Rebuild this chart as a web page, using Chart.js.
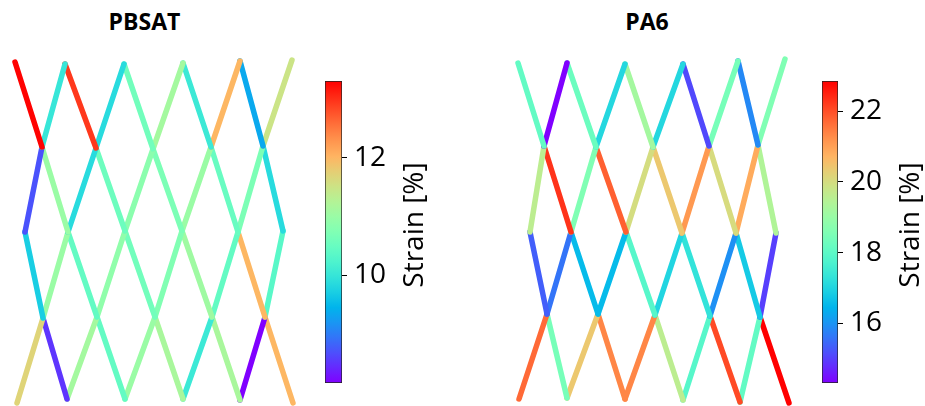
<!DOCTYPE html>
<html lang="en">
<head>
    <meta charset="UTF-8">
    <title>Strain lattice</title>
    <style>
        body { margin: 0; background: #fff; }
        #wrap { position: relative; width: 925px; height: 406px; overflow: hidden; }
        #wrap canvas { position: absolute; }
        .ttl { position: absolute; top: 10px; width: 200px; margin-left: -100px; text-align: center;
               font: bold 23px 'Open Sans'; line-height: 22px; color: #000; }
    </style>
</head>
<body>
<div id="wrap">
    <div class="ttl" style="left: 144.5px">PBSAT</div>
    <div class="ttl" style="left: 647px">PA6</div>
    <canvas id="latA" width="310" height="366" style="left:0px; top:40px"></canvas>
    <canvas id="barA" width="117" height="322" style="left:325px; top:71px"></canvas>
    <canvas id="latB" width="310" height="366" style="left:500px; top:40px"></canvas>
    <canvas id="barB" width="116" height="322" style="left:822px; top:71px"></canvas>
</div>

<script src="https://cdn.jsdelivr.net/npm/chart.js"></script>
<script>
// node positions [mm], rows from top to bottom (6,5,6,5,6 nodes)
const pbsatX = [
    [1.5, 6.5, 12.4, 18.3, 24.0, 29.2],
    [4.2, 9.6, 15.3, 21.1, 26.3],
    [2.5, 6.8, 12.5, 18.2, 23.8, 28.3],
    [4.3, 9.7, 15.5, 21.2, 26.5],
    [1.7, 6.7, 12.5, 18.3, 24.0, 29.3]
]
const pbsatY = [
    [34.4, 34.2, 34.2, 34.3, 34.5, 34.6],
    [25.9, 25.8, 25.7, 25.9, 26.0],
    [17.4, 17.4, 17.5, 17.5, 17.4, 17.5],
    [8.8, 8.9, 8.9, 8.9, 8.9],
    [0.3, 0.7, 0.7, 0.7, 0.6, 0.3]
]
const pa6X = [
    [1.8, 6.7, 12.5, 18.3, 23.8, 28.5],
    [4.4, 9.6, 15.3, 20.9, 25.8],
    [3.0, 7.1, 12.6, 18.2, 23.6, 27.6],
    [4.7, 9.8, 15.5, 21.0, 26.0],
    [1.9, 6.7, 12.5, 18.3, 24.0, 28.9]
]
const pa6Y = [
    [34.3, 34.3, 34.2, 34.2, 34.5, 34.7],
    [26.0, 25.9, 25.9, 26.0, 26.1],
    [17.4, 17.4, 17.4, 17.3, 17.3, 17.3],
    [9.2, 9.2, 9.1, 9.0, 8.9],
    [0.7, 0.8, 0.7, 0.6, 0.4, 0.3]
]

// strain [%] per strut, one row per band between node rows (zigzag order, left to right)
const pbsatStrain = [
    [13.3, 10.0, 12.95, 9.85, 10.6, 11.1, 10.05, 12.0, 9.35, 11.5],
    [8.7, 11.0, 9.85, 10.55, 10.85, 10.7, 11.0, 10.5, 10.7, 9.85],
    [9.7, 11.0, 10.45, 10.9, 10.6, 10.75, 11.05, 10.45, 12.0, 10.35],
    [11.7, 8.5, 11.1, 10.45, 11.0, 11.15, 10.05, 11.15, 8.16, 12.0]
]
const pa6Strain = [
    [18.1, 14.32, 18.25, 17.05, 19.2, 17.05, 15.1, 18.45, 15.85, 18.6],
    [19.6, 22.3, 18.6, 21.8, 20.0, 20.4, 21.1, 20.05, 20.85, 19.4],
    [15.35, 15.6, 16.55, 16.55, 17.9, 17.0, 17.3, 15.95, 16.8, 15.0],
    [21.7, 18.45, 20.4, 21.35, 21.35, 19.6, 17.9, 22.05, 18.1, 22.85]
]

// colorbar limits and ticks
const pbsatRange = [8.16, 13.31]
const pa6Range = [14.32, 22.85]
const pbsatTicks = [10, 12]
const pa6Ticks = [16, 18, 20, 22]

// matplotlib 'rainbow'
function rainbow(t){
    t = Math.min(1, Math.max(0, t))
    const c = v => Math.round(255 * Math.min(1, Math.max(0, v)))
    return 'rgb(' + c(Math.abs(2*t - 0.5)) + ',' + c(Math.sin(Math.PI*t)) + ',' + c(Math.cos(Math.PI*t/2)) + ')'
}

function latticeChart(id, xs, ys, strain, range){
    const datasets = []
    for (let b = 0; b < strain.length; b++){
        // rows 0,2,4 hold 6 nodes, rows 1,3 hold 5
        const wide = b % 2 == 0 ? b : b + 1
        const narrow = b % 2 == 0 ? b + 1 : b
        strain[b].forEach((s, k) => {
            const w = Math.ceil(k/2), n = Math.floor(k/2)
            datasets.push({
                type: 'line',
                data: [{x: xs[wide][w], y: ys[wide][w]}, {x: xs[narrow][n], y: ys[narrow][n]}],
                borderColor: rainbow((s - range[0]) / (range[1] - range[0])),
                borderWidth: 5.5,
                borderCapStyle: 'round',
                pointRadius: 0,
                clip: false
            })
        })
    }
    return new Chart(document.getElementById(id), {
        type: 'scatter',
        data: {datasets: datasets},
        options: {
            responsive: false,
            animation: false,
            events: [],
            scales: {
                x: {display: false, min: 0, max: 31},
                y: {display: false, min: 0, max: 36.6}
            },
            plugins: {legend: {display: false}, tooltip: {enabled: false}}
        }
    })
}

// colorbar label, reads bottom to top like matplotlib
const cbLabel = {
    id: 'cbLabel',
    afterDraw(chart, args, opts){
        const {ctx, chartArea: {top, bottom, right}} = chart
        ctx.save()
        ctx.translate(right + opts.offset, (top + bottom) / 2 + opts.shift)
        ctx.rotate(-Math.PI / 2)
        ctx.font = '28px "Open Sans"'
        ctx.fillStyle = '#000'
        ctx.textAlign = 'center'
        ctx.textBaseline = 'alphabetic'
        ctx.fillText(opts.text, 0, 0)
        ctx.restore()
    }
}

function colorbar(id, range, ticks){
    return new Chart(document.getElementById(id), {
        type: 'bar',
        data: {
            labels: [''],
            datasets: [{
                data: [range],
                backgroundColor(c){
                    const a = c.chart.chartArea
                    if (!a) return null
                    const g = c.chart.ctx.createLinearGradient(0, a.bottom, 0, a.top)
                    for (let i = 0; i <= 20; i++) g.addColorStop(i/20, rainbow(i/20))
                    return g
                },
                borderColor: '#222',
                borderWidth: 1,
                borderSkipped: false,
                barPercentage: 1,
                categoryPercentage: 1
            }]
        },
        options: {
            responsive: false,
            animation: false,
            events: [],
            layout: {padding: {top: 10, bottom: 10}},
            scales: {
                x: {display: false},
                y: {
                    position: 'right',
                    min: range[0],
                    max: range[1],
                    afterBuildTicks(s){ s.ticks = ticks.map(v => ({value: v})) },
                    afterFit(s){
                        s.width = 100
                        s.paddingTop = 0
                        s.paddingBottom = 0
                    },
                    ticks: {font: {family: 'Open Sans', size: 28}, color: '#000', padding: 7},
                    grid: {drawOnChartArea: false, drawTicks: true, tickLength: 5, color: '#000'},
                    border: {display: false}
                }
            },
            plugins: {
                legend: {display: false},
                tooltip: {enabled: false},
                cbLabel: {text: 'Strain [%]', offset: 81, shift: -7}
            }
        },
        plugins: [cbLabel]
    })
}

latticeChart('latA', pbsatX, pbsatY, pbsatStrain, pbsatRange)
latticeChart('latB', pa6X, pa6Y, pa6Strain, pa6Range)
colorbar('barA', pbsatRange, pbsatTicks)
colorbar('barB', pa6Range, pa6Ticks)
</script>
</body>
</html>
